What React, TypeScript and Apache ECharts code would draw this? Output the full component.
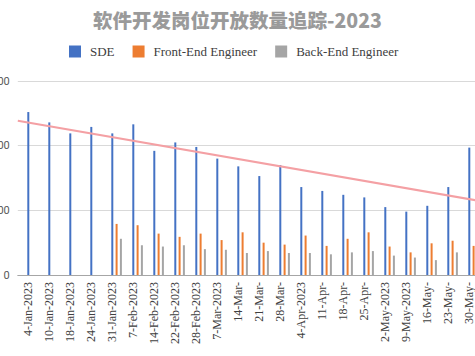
import React, { useEffect, useRef } from "react";
import * as echarts from "echarts";

const categories = [
  "4-Jan-2023", "10-Jan-2023", "18-Jan-2023", "24-Jan-2023", "31-Jan-2023",
  "7-Feb-2023", "14-Feb-2023", "22-Feb-2023", "28-Feb-2023", "7-Mar-2023",
  "14-Mar-", "21-Mar-", "28-Mar-", "4-Apr-2023", "11-Apr-", "18-Apr-",
  "25-Apr-", "2-May-2023", "9-May-2023", "16-May-", "23-May-", "30-May-",
];

const sde = [252, 236, 219, 229, 219, 233, 192, 205, 198, 180, 168, 153, 170, 136, 130, 124, 120, 105, 98, 107, 136, 197];
const frontEnd: (number | string)[] = ["-", "-", "-", "-", 79, 77, 64, 59, 64, 54, 66, 50, 47, 61, 45, 56, 66, 44, 35, 49, 53, 45];
const backEnd: (number | string)[] = ["-", "-", "-", "-", 56, 46, 44, 46, 40, 39, 34, 37, 34, 34, 32, 35, 37, 30, 27, 23, 35, 36];

const yTicks = [0, 100, 200, 300];
const trendStart = 238.6;
const trendEnd = 114.5;

const seriesNames = ["SDE", "Front-End Engineer", "Back-End Engineer"];

export default function App() {
  const ref = useRef<HTMLDivElement>(null);
  useEffect(() => {
    if (!ref.current) return;
    const chart = echarts.init(ref.current, undefined, { renderer: "svg" });
    const n = categories.length;
    const barBase = { type: "bar" as const, barWidth: 2, barGap: "115%" };
    chart.setOption({
      animation: false,
      backgroundColor: "#ffffff",
      title: {
        text: "软件开发岗位开放数量追踪-2023",
        left: "center",
        top: 5,
        textStyle: {
          fontFamily: "Noto Sans CJK SC",
          fontSize: 19.5,
          fontWeight: 900,
          color: "#9a9a9a",
        },
      },
      legend: {
        data: seriesNames,
        left: 64,
        top: 40,
        itemWidth: 12,
        itemHeight: 12,
        itemGap: 18,
        icon: "rect",
        textStyle: {
          fontFamily: "Liberation Serif",
          fontSize: 13,
          color: "#404040",
          padding: [0, 0, 0, 4],
        },
      },
      grid: { left: 17.8, top: 81, width: 462, height: 194, outerBoundsMode: "none", containLabel: false },
      xAxis: [
        {
          type: "category",
          data: categories,
          axisTick: { show: false },
          axisLine: { lineStyle: { color: "#a6a6a6", width: 1 } },
          axisLabel: {
            rotate: 90,
            interval: 0,
            margin: 7,
            padding: [8, 0, 0, 0],
            fontFamily: "Liberation Serif",
            fontSize: 12,
            color: "#404040",
          },
        },
        {
          type: "value",
          min: -0.5,
          max: n - 0.5,
          show: false,
        },
      ],
      yAxis: {
        type: "value",
        min: yTicks[0],
        max: yTicks[yTicks.length - 1],
        interval: yTicks[1] - yTicks[0],
        axisLine: { show: false },
        axisTick: { show: false },
        splitLine: { lineStyle: { color: "#d9d9d9", width: 1 } },
        axisLabel: {
          margin: 8,
          fontFamily: "Roboto",
          fontSize: 11,
          color: "#595959",
        },
      },
      series: [
        { ...barBase, name: "_a", data: [] },
        { ...barBase, name: "_b", data: [] },
        { ...barBase, name: seriesNames[0], data: sde, itemStyle: { color: "#4472c4" } },
        { ...barBase, name: seriesNames[1], data: frontEnd, itemStyle: { color: "#ed7d31" } },
        { ...barBase, name: seriesNames[2], data: backEnd, itemStyle: { color: "#a5a5a5" } },
        {
          type: "line",
          name: "trend",
          xAxisIndex: 1,
          data: [[-0.5, trendStart], [n - 0.5, trendEnd]],
          symbol: "none",
          z: 10,
          lineStyle: { color: "#f4a0a4", width: 2 },
          silent: true,
        },
      ],
    });
    return () => chart.dispose();
  }, []);
  return (
    <div
      ref={ref}
      style={{ position: "absolute", left: 0, top: 0, width: 475, height: 356 }}
    />
  );
}
